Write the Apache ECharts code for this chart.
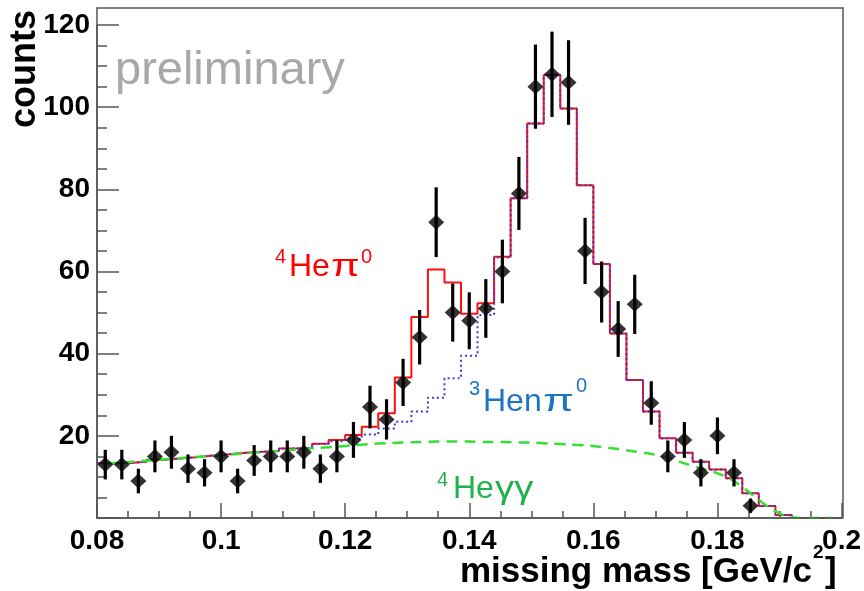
<!DOCTYPE html>
<html>
<head>
<meta charset="utf-8">
<script src="https://cdn.jsdelivr.net/npm/echarts@6/dist/echarts.min.js"></script>
<style>
html,body{margin:0;padding:0;background:#fff;}
#chart{width:864px;height:591px;}
</style>
</head>
<body>
<div id="chart"></div>
<script>
// ---- data ----
const xRange = [0.08, 0.2];
const nBins = 45;
// measured counts (bins 0..39)
const counts = [13,13,9,15,16,12,11,15,9,14,15,15,16,12,15,19,27,24,33,44,72,50,48,51,60,79,105,108,106,65,55,46,52,28,15,19,11,20,11,3];
// total fit (4He pi0 + 3He n pi0 + 4He gamma gamma), red solid
const totalFit = [13.3,13.4,13.7,14.2,14.5,14.8,15.2,15.5,15.9,16.1,16.3,16.9,17.1,18.1,19.0,20.2,22.2,25.5,34.2,48.9,60.5,57.3,49.7,52.3,63.6,77.8,96.0,107.8,99.7,81.0,61.8,44.9,33.6,25.9,19.4,15.9,13.7,11.8,9.7,6.0,2.9,0.7,0,0,0];
// 3He n pi0 + 4He gamma gamma, blue dotted
const henpiFit = [13.3,13.4,13.7,14.2,14.5,14.8,15.2,15.5,15.9,16.1,16.3,16.9,17.1,18.0,18.7,19.2,20.3,21.8,23.4,25.9,29.3,34.0,39.5,49.4,63.4,77.8,96.0,107.8,99.7,81.0,61.8,44.9,33.6,25.9,19.4,15.9,13.7,11.8,9.7,6.0,2.9,0.7,0,0,0];
// 4He gamma gamma, green dashed
const heggFit = [13.3,13.5,13.8,14.1,14.4,14.7,15.0,15.3,15.6,15.9,16.2,16.5,16.8,17.1,17.4,17.7,18.0,18.2,18.4,18.5,18.6,18.6,18.6,18.5,18.5,18.4,18.3,18.1,17.9,17.7,17.3,16.8,16.2,15.6,14.6,13.3,12.1,10.9,9.0,6.0,2.9,0.7,0,0,0];
const xTicks = [0.08,0.1,0.12,0.14,0.16,0.18,0.2];
const yTicks = [20,40,60,80,100,120];

// ---- derived from the data ----
const binW = (xRange[1]-xRange[0])/nBins;
const center = i => xRange[0] + (i+0.5)*binW;
function histSteps(vals){
  const d = vals.map((v,i)=>[xRange[0]+i*binW, v]);
  d.push([xRange[1], vals[vals.length-1]]);
  return d;
}
const pts = counts.map((v,i)=>[center(i), v]);
const errs = counts.map((v,i)=>[center(i), v-Math.sqrt(v), v+Math.sqrt(v)]);
const greenPts = heggFit.map((v,i)=>[center(i), v]);

const chart = echarts.init(document.getElementById('chart'), null, {renderer:'canvas'});
const F = '"Liberation Sans", Arial, Helvetica, sans-serif';
const axisCol = '#555';
const RED='#ff0000', BLUE='#1c74c4', GREEN='#22b24c';

function txt(x,y,s,fill,font,extra){
  return Object.assign({type:'text',x:x,y:y,z:10,style:{text:s,fill:fill,font:font,textVerticalAlign:'middle'}},extra||{});
}

const option = {
  backgroundColor:'#fff',
  animation:false,
  grid:{left:97,right:21,top:25,bottom:73},
  xAxis:{
    type:'value', min:xRange[0], max:xRange[1], interval:0.02,
    axisLine:{show:true,lineStyle:{color:axisCol,width:1.5}},
    axisTick:{show:true,inside:true,length:15,lineStyle:{color:axisCol,width:1.5}},
    minorTick:{show:true,splitNumber:4,length:7,lineStyle:{color:axisCol,width:1.5}},
    splitLine:{show:false},
    axisLabel:{color:'#000',fontFamily:F,fontWeight:'bold',fontSize:28,margin:9,showMinLabel:true,showMaxLabel:true,
      formatter:v=>{const m=xTicks.find(t=>Math.abs(t-v)<1e-9);return m===undefined?'':String(m);}}
  },
  yAxis:{
    type:'value', min:0, max:120, interval:20,
    axisLine:{show:true,lineStyle:{color:axisCol,width:1.5}},
    axisTick:{show:true,inside:true,length:22,lineStyle:{color:axisCol,width:1.5}},
    minorTick:{show:true,splitNumber:4,length:10,lineStyle:{color:axisCol,width:1.5}},
    splitLine:{show:false},
    axisLabel:{color:'#000',fontFamily:F,fontWeight:'bold',fontSize:28,margin:7,
      formatter:v=>yTicks.includes(v)?String(v):''}
  },
  series:[
    {type:'line',name:'total',data:histSteps(totalFit),step:'end',showSymbol:false,
      lineStyle:{color:'#ff1010',width:2},z:2},
    {type:'line',name:'3Henpi0',data:histSteps(henpiFit),step:'end',showSymbol:false,
      lineStyle:{color:'#3a3ad8',width:2,type:[2,3]},z:3},
    {type:'line',name:'4Hegg',data:greenPts,smooth:0.3,showSymbol:false,
      lineStyle:{color:'#33e033',width:2.5,type:[11,7]},z:4},
    {type:'custom',name:'err',data:errs,z:5,
      renderItem:(params,api)=>{
        const x=api.value(0);
        const p1=api.coord([x,api.value(1)]);
        const p2=api.coord([x,api.value(2)]);
        return {type:'line',shape:{x1:p1[0],y1:p1[1],x2:p2[0],y2:p2[1]},style:{stroke:'#000',lineWidth:3.2}};
      }},
    {type:'scatter',name:'data',data:pts,symbol:'diamond',symbolSize:[16,15],
      itemStyle:{color:'#000'},z:6}
  ],
  graphic:[
    {type:'rect',shape:{x:97,y:8,width:746,height:510},style:{fill:'none',stroke:axisCol,lineWidth:1.5},z:10,silent:true},
    txt(115,71,'preliminary','#a8a8a8','47px '+F),
    {type:'text',x:25,y:69,rotation:Math.PI/2,z:10,style:{text:'counts',fill:'#000',font:'bold 36px '+F,textAlign:'center',textVerticalAlign:'middle'}},
    {type:'text',x:812,y:572,z:10,style:{text:'missing mass [GeV/c',fill:'#000',font:'bold 35px '+F,textAlign:'right',textVerticalAlign:'middle'}},
    txt(813,553,'2','#000','bold 19px '+F),
    txt(825,572,']','#000','bold 35px '+F),
    // 4He pi0 (red)
    txt(275,257,'4',RED,'20px '+F),
    txt(289,267,'He',RED,'32px '+F),
    txt(331,267,'π',RED,'32px '+F,{scaleX:1.3}),
    txt(361,257,'0',RED,'20px '+F),
    // 3He n pi0 (blue)
    txt(469,389,'3',BLUE,'20px '+F),
    txt(483,402,'Hen',BLUE,'32px '+F),
    txt(543,402,'π',BLUE,'32px '+F,{scaleX:1.4}),
    txt(576,386,'0',BLUE,'20px '+F),
    // 4He gamma gamma (green)
    txt(437,480,'4',GREEN,'20px '+F),
    txt(453,489,'He',GREEN,'32px '+F),
    txt(495,489,'γγ',GREEN,'32px '+F,{scaleX:1.2})
  ]
};
chart.setOption(option);
</script>
</body>
</html>
